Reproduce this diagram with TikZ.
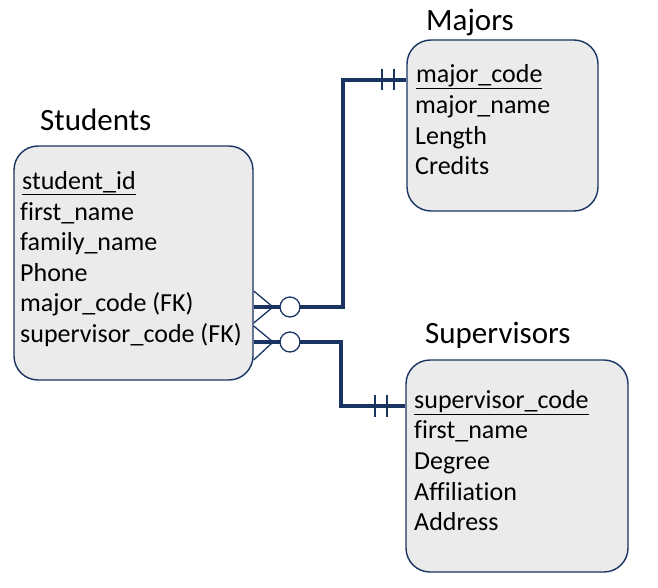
\documentclass[tikz,border=0pt]{standalone}
\usepackage{fontspec}
\setmainfont{Carlito}[Ligatures=CommonOff]
\usetikzlibrary{calc}
\definecolor{navy}{HTML}{1A3462}
\tikzset{
  entity/.style={draw=navy, line width=1.4pt, fill=black!8, rounded corners=24pt, inner sep=0pt},
  etitle/.style={font=\fontsize{31}{36}\selectfont, anchor=west, inner sep=0pt},
  attr/.style={font=\fontsize{26}{31}\selectfont, anchor=west, inner sep=0pt,
               text height=21pt, text depth=4pt},
  link/.style={draw=navy, line width=3.3pt},
  crow/.style={draw=navy, line width=1.3pt},
  optional/.style={draw=navy, line width=1.3pt, fill=white}
}

\begin{document}
\begin{tikzpicture}[x=1pt,y=-1pt]
  \useasboundingbox (0,0) rectangle (658,588);

  % Entity boxes and their titles.
  \node[entity, minimum width=239pt, minimum height=234pt] (stu) at (133.5,263) {};
  \node[entity, minimum width=191pt, minimum height=171pt] (maj) at (502.5,125.5) {};
  \node[entity, minimum width=222pt, minimum height=212pt] (sup) at (517,466) {};
  \node[etitle] (stutitle) at (40,120) {Students};
  \node[etitle] (majtitle) at (426,22) {Majors};
  \node[etitle] (suptitle) at (425,335) {Supervisors};

  % Attributes.
  \node[attr] (sid) at (22,181) {\underline{student\_id}};
  \node[attr] (sfn) at (20,212) {first\_name};
  \node[attr] (sfam) at (20,242) {family\_name};
  \node[attr] (sph) at (20,273) {Phone};
  \node[attr] (smc) at (20,303) {major\_code (FK)};
  \node[attr] (ssc) at (20,334) {supervisor\_code (FK)};

  \node[attr] (mcode) at (416,74) {\underline{major\_code}};
  \node[attr] (mname) at (415,105) {major\_name};
  \node[attr] (mlen) at (415,136) {Length};
  \node[attr] (mcred) at (415,166) {Credits};

  \node[attr] (scode) at (414,400) {\underline{supervisor\_code}};
  \node[attr] (sfirst) at (414,430) {first\_name};
  \node[attr] (sdeg) at (414,461) {Degree};
  \node[attr] (saff) at (414,492) {Affiliation};
  \node[attr] (saddr) at (414,522) {Address};

  % Students -- Majors (many, optional to exactly one).
  \draw[link] (stu.east |- 0,307) -| (343,80) -- (maj.west |- 0,80);
  \draw[crow] (stu.east |- 0,291) -- (273,307) -- (stu.east |- 0,323);
  \draw[optional] (290,307) circle (10);
  \draw[crow] (382,69) -- (382,90);
  \draw[crow] (394,69) -- (394,90);

  % Students -- Supervisors (many, optional to exactly one).
  \draw[link] (stu.east |- 0,342) -| (341,406) -- (sup.west |- 0,406);
  \draw[crow] (stu.east |- 0,326) -- (273,342) -- (stu.east |- 0,360);
  \draw[optional] (290,342) circle (10);
  \draw[crow] (375,395) -- (375,417);
  \draw[crow] (387,395) -- (387,417);
\end{tikzpicture}
\end{document}
